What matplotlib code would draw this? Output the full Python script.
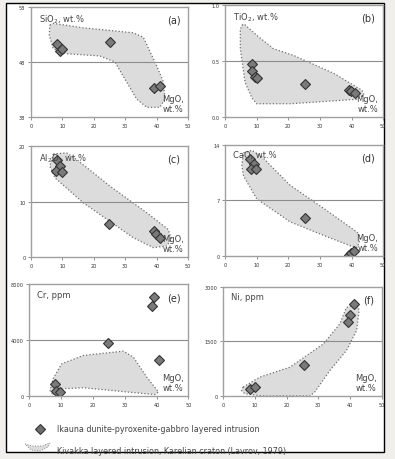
import numpy as np
import matplotlib
matplotlib.use("Agg")
import matplotlib.pyplot as plt
from matplotlib.patches import Polygon, Rectangle

# MgO (x) and oxide / trace element (y) for the Ikauna points
mgo = [8.3, 9.3, 9.8, 25.0, 39.0, 41.0]
sio2 = [51.2, 50.0, 50.3, 51.6, 43.3, 43.6]

mgo_ti = [8.5, 8.5, 9.5, 10.0, 25.2, 39.1, 39.9, 41.0]
tio2 = [0.475, 0.41, 0.36, 0.35, 0.30, 0.24, 0.23, 0.22]

mgo_al = [8.2, 9.2, 7.9, 9.7, 24.9, 39.1, 39.7, 41.0]
al2o3 = [17.5, 16.5, 15.6, 15.4, 5.9, 4.7, 4.1, 3.5]

mgo_ca = [7.9, 9.2, 8.2, 9.8, 25.2, 39.1, 39.9, 40.9]
cao = [12.2, 11.6, 10.9, 11.0, 4.8, 0.2, 0.4, 0.6]

mgo_cr = [39.3, 38.7, 24.8, 40.8, 8.1, 8.4, 9.6]
cr = [7050, 6410, 3800, 2590, 830, 360, 290]

mgo_ni = [41.4, 40.0, 39.5, 25.5, 8.6, 10.2]
ni = [2543, 2224, 2024, 866, 200, 246]

# Kivakka fields (outline vertices)
field_si = [(6.0, 54.7), (7.1, 55.0), (16.6, 54.2), (32.5, 53.3), (35.7, 52.5),
            (39.9, 47.4), (42.1, 44.4), (42.6, 41.3), (41.0, 39.8), (36.8, 39.8),
            (33.6, 41.3), (30.4, 44.4), (26.7, 48.0), (21.9, 49.1), (11.3, 49.5),
            (7.1, 50.4), (5.8, 52.8)]
field_ti = [(5.3, 0.82), (6.0, 0.83), (10.0, 0.73), (15.3, 0.61), (21.7, 0.55),
            (34.4, 0.39), (43.3, 0.24), (43.9, 0.20), (41.8, 0.16), (20.6, 0.12),
            (10.0, 0.12), (8.5, 0.17), (6.3, 0.31), (4.8, 0.61), (4.8, 0.78)]
field_al = [(7.1, 18.6), (11.3, 18.8), (14.5, 17.6), (25.1, 12.8), (36.8, 8.0),
            (43.6, 5.0), (44.7, 3.2), (43.1, 2.0), (38.9, 1.7), (32.5, 3.5),
            (16.6, 9.8), (7.6, 14.3), (6.0, 16.4)]
field_ca = [(5.8, 13.0), (8.5, 13.3), (11.6, 12.5), (20.6, 8.9), (31.2, 6.0),
            (41.8, 3.0), (42.8, 2.2), (41.8, 1.1), (39.6, 1.3), (31.2, 2.6),
            (20.6, 4.3), (10.0, 7.2), (5.8, 10.1), (5.3, 11.4)]
field_cr = [(7.5, 1240), (10.2, 2300), (17.0, 2900), (29.6, 3210), (32.7, 2780),
            (36.9, 1350), (40.6, 290), (39.5, 100), (30.6, 290), (17.0, 590),
            (10.7, 520), (7.5, 50), (6.5, 400)]
field_ni = [(6.3, 246), (11.6, 520), (21.1, 793), (31.6, 1431), (36.8, 1978),
            (38.9, 2434), (40.5, 2480), (42.6, 2452), (42.9, 2343), (42.1, 1796),
            (38.9, 1249), (33.7, 702), (28.9, 109), (27.4, 0), (12.6, 0),
            (6.8, 64), (5.8, 155)]

panels = [
    # x, y, field, y ticks, tick labels, label, tag, axes rect
    (mgo, sio2, field_si, (38, 48, 58), ['38', '48', '58'], 'SiO$_2$, wt.%', '(a)',
     [0.0785, 0.743, 0.398, 0.240]),
    (mgo_ti, tio2, field_ti, (0, 0.5, 1.0), ['0.0', '0.5', '1.0'], 'TiO$_2$, wt.%', '(b)',
     [0.570, 0.743, 0.400, 0.244]),
    (mgo_al, al2o3, field_al, (0, 10, 20), ['0', '10', '20'], 'Al$_2$O$_3$ wt.%', '(c)',
     [0.0785, 0.439, 0.398, 0.241]),
    (mgo_ca, cao, field_ca, (0, 7, 14), ['0', '7', '14'], 'CaO, wt.%', '(d)',
     [0.570, 0.441, 0.400, 0.242]),
    (mgo_cr, cr, field_cr, (0, 4000, 8000), ['0', '4000', '8000'], 'Cr, ppm', '(e)',
     [0.0740, 0.137, 0.403, 0.243]),
    (mgo_ni, ni, field_ni, (0, 1500, 3000), ['0', '1500', '3000'], 'Ni, ppm', '(f)',
     [0.565, 0.137, 0.401, 0.237]),
]

fig = plt.figure(figsize=(3.95, 4.6), dpi=100)
fig.patch.set_facecolor('#f0efeb')

# background frame + legend, in pixel coords
bg = fig.add_axes([0, 0, 1, 1], zorder=-1)
bg.set_xlim(0, 395)
bg.set_ylim(460, 0)
bg.axis('off')
frame = Rectangle((6, 4), 378, 449, facecolor='white', edgecolor='black', lw=1)
bg.add_patch(frame)
bg.plot([40], [430], marker='D', ms=5.2, mfc='#6e6e6e', mec='#333333', mew=0.8)
bg.text(57, 430, 'Ikauna dunite-pyroxenite-gabbro layered intrusion',
        fontsize=5.8, color='#444444', va='center')
leg_shape = [(25, 445), (32, 447), (42, 447), (50, 444), (48, 448), (40, 452), (31, 451)]
bg.add_patch(Polygon(leg_shape, closed=True, facecolor='#dcdcdc', edgecolor='#888888',
                     lw=0.7, ls=':'))
t = bg.text(57, 452, 'Kivakka layered intrusion, Karelian craton (Lavrov, 1979)',
            fontsize=5.8, color='#444444', va='center')
t.set_clip_path(frame)

for xs, ys, field, lims, ylabs, lab, tag, rect in panels:
    ax = fig.add_axes(rect)
    ax.add_patch(Polygon(field, closed=True, facecolor='#dcdcdc', edgecolor='#6e6e6e',
                         lw=0.9, ls=':', joinstyle='round'))
    ax.axhline(lims[1], color='#8c8c8c', lw=0.8)
    ax.plot(xs, ys, ls='none', marker='D', ms=5, mfc='#7a7a7a', mec='#333333', mew=0.8)
    ax.set_xlim(0, 50)
    ax.set_ylim(lims[0], lims[2])
    ax.set_xticks([0, 10, 20, 30, 40, 50])
    ax.set_yticks(lims)
    ax.set_yticklabels(ylabs)
    ax.tick_params(labelsize=3.6, length=2, width=0.5, colors='#666666', pad=2)
    ax.tick_params(labelcolor='#333333')
    for s in ax.spines.values():
        s.set_color('#a0a0a0')
        s.set_linewidth(1)
    ax.text(0.05, 0.95, lab, transform=ax.transAxes, fontsize=6, color='#444444',
            va='top', ha='left')
    ax.text(0.95, 0.93, tag, transform=ax.transAxes, fontsize=7, color='#333333',
            va='top', ha='right')
    ax.text(0.97, 0.04, 'MgO,\nwt.%', transform=ax.transAxes, fontsize=6,
            color='#444444', va='bottom', ha='right', linespacing=1.1)

fig.savefig('out.png', dpi=100, facecolor=fig.get_facecolor())
